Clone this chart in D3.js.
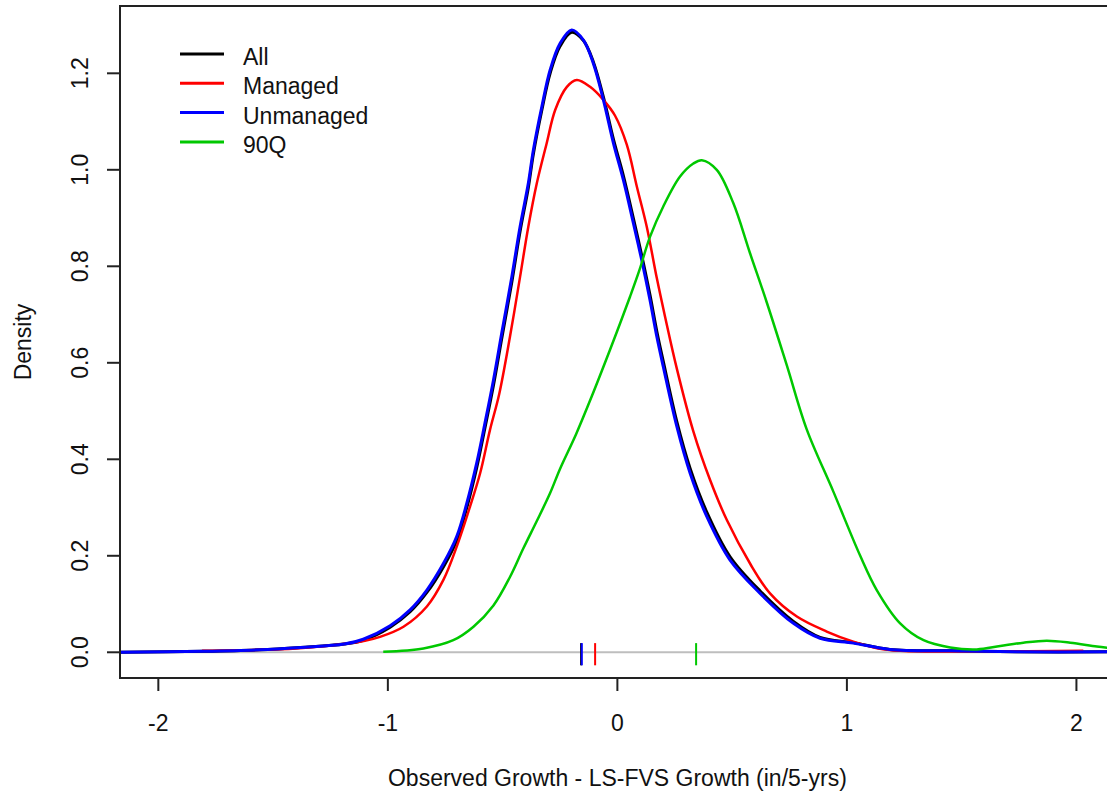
<!DOCTYPE html>
<html>
<head>
<meta charset="utf-8">
<script src="https://cdn.jsdelivr.net/npm/d3@7"></script>
<style>
  body { margin: 0; background: #fff; }
  text { font-family: "Liberation Sans", Arial, sans-serif; fill: #111; }
</style>
</head>
<body>
<svg></svg>
<script>
const w = 1107;
const h = 797;
const plotLeft = 120;
const plotRight = 1112;
const plotTop = 6;
const plotBottom = 678;
const fontSize = 23;

// density curves
const allX = [-2.17, -1.80, -1.56, -1.38, -1.19, -1.107, -0.99, -0.903, -0.83, -0.758, -0.70, -0.656, -0.613, -0.577, -0.540, -0.504, -0.460, -0.424, -0.388, -0.366, -0.329, -0.293, -0.250, -0.199, -0.148, -0.105, -0.061, -0.017, 0.026, 0.070, 0.106, 0.142, 0.172, 0.200, 0.259, 0.317, 0.390, 0.491, 0.622, 0.767, 0.883, 1.028, 1.187, 1.449, 1.74, 2.16];
const allY = [0.000, 0.002, 0.005, 0.010, 0.017, 0.025, 0.052, 0.084, 0.124, 0.177, 0.232, 0.300, 0.382, 0.465, 0.553, 0.650, 0.767, 0.872, 0.963, 1.033, 1.124, 1.200, 1.256, 1.285, 1.268, 1.224, 1.151, 1.063, 0.988, 0.899, 0.823, 0.741, 0.665, 0.603, 0.478, 0.381, 0.290, 0.198, 0.127, 0.064, 0.031, 0.020, 0.006, 0.003, 0.001, 0.001];

const managedX = [-1.81, -1.55, -1.40, -1.25, -1.10, -1.034, -0.932, -0.830, -0.758, -0.700, -0.642, -0.598, -0.555, -0.515, -0.468, -0.424, -0.388, -0.351, -0.308, -0.271, -0.220, -0.177, -0.119, -0.061, -0.010, 0.041, 0.085, 0.128, 0.172, 0.208, 0.259, 0.331, 0.404, 0.477, 0.578, 0.665, 0.782, 0.912, 1.028, 1.157, 1.30, 1.60, 2.03];
const managedY = [0.003, 0.005, 0.008, 0.014, 0.024, 0.032, 0.053, 0.095, 0.150, 0.219, 0.302, 0.371, 0.461, 0.535, 0.654, 0.778, 0.882, 0.972, 1.055, 1.124, 1.172, 1.186, 1.172, 1.145, 1.112, 1.052, 0.965, 0.882, 0.775, 0.695, 0.588, 0.458, 0.357, 0.274, 0.184, 0.122, 0.074, 0.043, 0.022, 0.006, 0.002, 0.002, 0.003];

const unmanagedX = [-2.17, -1.80, -1.56, -1.38, -1.19, -1.107, -0.99, -0.903, -0.83, -0.758, -0.70, -0.656, -0.613, -0.577, -0.540, -0.504, -0.460, -0.424, -0.388, -0.366, -0.329, -0.293, -0.250, -0.199, -0.148, -0.105, -0.061, -0.017, 0.026, 0.070, 0.106, 0.142, 0.172, 0.200, 0.259, 0.317, 0.390, 0.491, 0.622, 0.767, 0.883, 1.028, 1.187, 1.449, 1.74, 2.16];
const unmanagedY = [0.000, 0.002, 0.005, 0.010, 0.017, 0.027, 0.055, 0.088, 0.129, 0.184, 0.240, 0.309, 0.392, 0.475, 0.564, 0.661, 0.778, 0.882, 0.972, 1.041, 1.131, 1.207, 1.262, 1.290, 1.269, 1.221, 1.145, 1.055, 0.979, 0.889, 0.813, 0.730, 0.654, 0.592, 0.468, 0.371, 0.281, 0.191, 0.122, 0.060, 0.029, 0.019, 0.006, 0.003, 0.001, 0.001];

const q90X = [-1.02, -0.845, -0.715, -0.627, -0.540, -0.468, -0.410, -0.351, -0.293, -0.250, -0.18, -0.112, -0.032, 0.012, 0.055, 0.096, 0.142, 0.200, 0.273, 0.331, 0.368, 0.433, 0.505, 0.578, 0.651, 0.738, 0.825, 0.941, 1.058, 1.130, 1.232, 1.334, 1.450, 1.566, 1.668, 1.769, 1.871, 1.973, 2.089, 2.16];
const q90Y = [0.001, 0.008, 0.025, 0.053, 0.097, 0.156, 0.215, 0.272, 0.330, 0.380, 0.452, 0.530, 0.627, 0.682, 0.737, 0.792, 0.861, 0.924, 0.986, 1.013, 1.020, 1.000, 0.931, 0.827, 0.725, 0.595, 0.462, 0.333, 0.200, 0.129, 0.060, 0.025, 0.010, 0.006, 0.013, 0.020, 0.024, 0.020, 0.012, 0.008];

// means shown as short marks on the zero line
const seriesNames = ["All", "Managed", "Unmanaged", "90Q"];
const seriesColors = ["#000000", "#ff0000", "#0000ff", "#00c800"];
const seriesWidths = [3, 2.5, 3, 2.5];
const means = [-0.158, -0.097, -0.155, 0.343];

const xTicks = [-2, -1, 0, 1, 2];
const yTicks = [0, 0.2, 0.4, 0.6, 0.8, 1.0, 1.2];

const svg = d3.select("svg").attr("width", w).attr("height", h);

const x = d3.scaleLinear().domain([-2.167, 2.155]).range([plotLeft, plotRight]);
const y = d3.scaleLinear().domain([-0.0533, 1.3395]).range([plotBottom, plotTop]);

svg.append("clipPath").attr("id", "plot")
  .append("rect").attr("x", plotLeft).attr("y", plotTop)
  .attr("width", plotRight - plotLeft).attr("height", plotBottom - plotTop);

/** zero line */
svg.append("line")
  .attr("x1", plotLeft).attr("x2", plotRight)
  .attr("y1", y(0)).attr("y2", y(0))
  .attr("stroke", "#bebebe").attr("stroke-width", 2);

const curves = [
  [allX, allY],
  [managedX, managedY],
  [unmanagedX, unmanagedY],
  [q90X, q90Y]
];

const line = d3.line()
  .x((d) => x(d[0]))
  .y((d) => y(d[1]))
  .curve(d3.curveCatmullRom.alpha(0.5));

const g = svg.append("g").attr("clip-path", "url(#plot)");

curves.forEach((c, i) => {
  g.append("path")
    .datum(d3.zip(c[0], c[1]))
    .attr("d", line)
    .attr("fill", "none")
    .attr("stroke", seriesColors[i])
    .attr("stroke-width", seriesWidths[i])
    .attr("stroke-linejoin", "round");
});

/** mean marks */
g.selectAll("line.mean")
  .data(means)
  .enter()
  .append("line")
  .attr("class", "mean")
  .attr("x1", (d) => x(d)).attr("x2", (d) => x(d))
  .attr("y1", y(0.019)).attr("y2", y(-0.027))
  .attr("stroke", (d, i) => seriesColors[i])
  .attr("stroke-width", 2);

/** box */
svg.append("rect")
  .attr("x", plotLeft).attr("y", plotTop)
  .attr("width", plotRight - plotLeft).attr("height", plotBottom - plotTop)
  .attr("fill", "none").attr("stroke", "#222").attr("stroke-width", 2);

/** x axis */
svg.selectAll("line.xt")
  .data(xTicks).enter().append("line")
  .attr("class", "xt")
  .attr("x1", (d) => x(d)).attr("x2", (d) => x(d))
  .attr("y1", plotBottom).attr("y2", plotBottom + 13)
  .attr("stroke", "#222").attr("stroke-width", 2);

svg.selectAll("text.xl")
  .data(xTicks).enter().append("text")
  .attr("class", "xl")
  .attr("x", (d) => x(d)).attr("y", 731)
  .attr("text-anchor", "middle")
  .attr("font-size", fontSize)
  .text((d) => d);

/** y axis */
svg.selectAll("line.yt")
  .data(yTicks).enter().append("line")
  .attr("class", "yt")
  .attr("x1", plotLeft - 13).attr("x2", plotLeft)
  .attr("y1", (d) => y(d)).attr("y2", (d) => y(d))
  .attr("stroke", "#222").attr("stroke-width", 2);

svg.selectAll("text.yl")
  .data(yTicks).enter().append("text")
  .attr("class", "yl")
  .attr("transform", (d) => `translate(88,${y(d)}) rotate(-90)`)
  .attr("text-anchor", "middle")
  .attr("font-size", fontSize)
  .text((d) => d.toFixed(1));

svg.append("text")
  .attr("x", x(0)).attr("y", 786)
  .attr("text-anchor", "middle")
  .attr("font-size", fontSize)
  .text("Observed Growth - LS-FVS Growth (in/5-yrs)");

svg.append("text")
  .attr("transform", `translate(31,${(plotTop + plotBottom) / 2}) rotate(-90)`)
  .attr("text-anchor", "middle")
  .attr("font-size", fontSize)
  .text("Density");

/** legend */
const legend = svg.append("g");
seriesNames.forEach((name, i) => {
  const ly = 54 + i * 29.3;
  legend.append("line")
    .attr("x1", 180).attr("x2", 224)
    .attr("y1", ly).attr("y2", ly)
    .attr("stroke", seriesColors[i]).attr("stroke-width", 3);
  legend.append("text")
    .attr("x", 243).attr("y", ly + 11)
    .attr("font-size", fontSize)
    .text(name);
});
</script>
</body>
</html>
